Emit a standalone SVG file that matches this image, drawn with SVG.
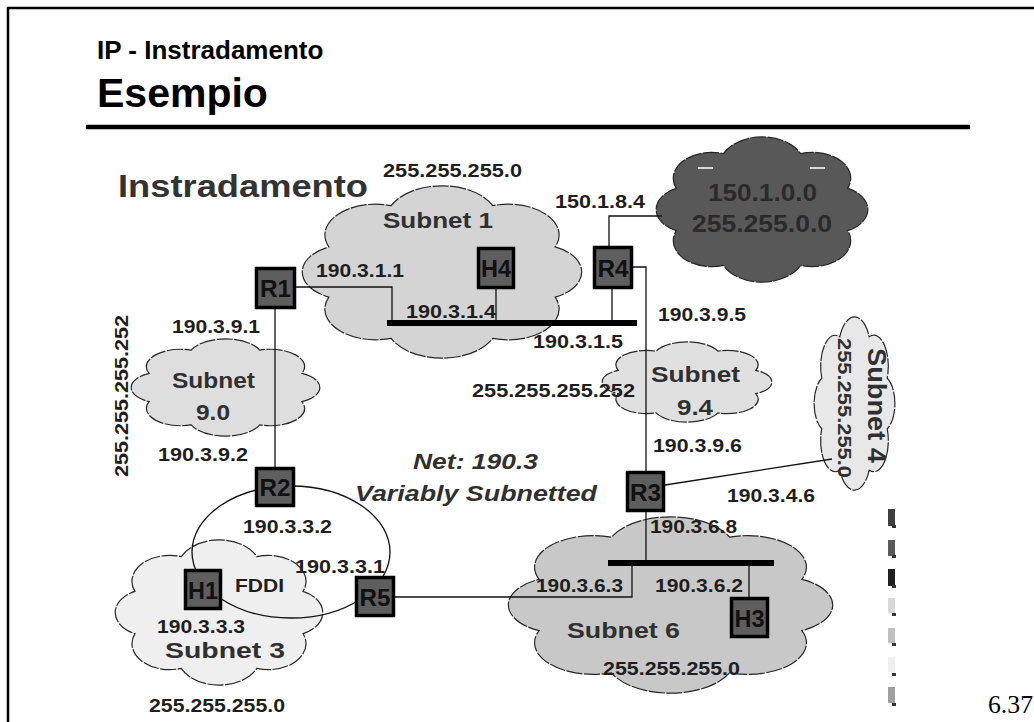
<svg xmlns="http://www.w3.org/2000/svg" xmlns:xlink="http://www.w3.org/1999/xlink" width="1034" height="722" viewBox="0 0 1034 722">
<style>
text{font-family:"Liberation Sans",Arial,sans-serif;font-weight:bold;fill:#1e1e1e}
.lbl{font-size:19px}
.big{font-size:22px;fill:#303030}
.ital{font-style:italic}
.cl{stroke:#262626;stroke-width:1.2;stroke-dasharray:16 1.5;vector-effect:non-scaling-stroke}
.ln{fill:none;stroke:#111;stroke-width:1.3}
.bus{fill:none;stroke:#000;stroke-width:6}
.box{fill:#5e5e5e;stroke:#000;stroke-width:3.5}
.bt{font-size:23px;fill:#111;text-anchor:middle}
.frame{stroke:#000;stroke-width:2.5;fill:none}
</style>
<defs>
<path id="cloud" class="cl" d="M-75.2,-27.4 A33.7,33.7 0 0 1 -33.8,-72.5 A37.2,37.2 0 0 1 33.8,-72.5 A33.7,33.7 0 0 1 75.2,-27.4 A30.1,30.1 0 0 1 75.2,27.4 A33.7,33.7 0 0 1 33.8,72.5 A37.2,37.2 0 0 1 -33.8,72.5 A33.7,33.7 0 0 1 -75.2,27.4 A30.1,30.1 0 0 1 -75.2,-27.4 Z"/>
</defs>
<rect width="1034" height="722" fill="#fff"/>
<path class="frame" d="M8,722 V8 H1034"/>
<text x="97" y="59" style="font-size:26px;fill:#000">IP - Instradamento</text>
<text x="97" y="107" style="font-size:41px;fill:#000">Esempio</text>
<line x1="86" y1="127" x2="970" y2="127" stroke="#000" stroke-width="4.5"/>
<text x="118" y="197" style="font-size:32px;fill:#333" textLength="250" lengthAdjust="spacingAndGlyphs">Instradamento</text>

<g id="net150">
<use xlink:href="#cloud" href="#cloud" fill="#585858" transform="translate(762,209.5) scale(1.14,0.771)"/>
<line x1="698" y1="168" x2="713" y2="168" stroke="#fff" stroke-width="1.5"/>
<line x1="810" y1="168" x2="825" y2="168" stroke="#fff" stroke-width="1.5"/>
<text x="708" y="201" style="font-size:23px;fill:#2a2a2a" textLength="109" lengthAdjust="spacingAndGlyphs">150.1.0.0</text>
<text x="692" y="232" style="font-size:23px;fill:#2a2a2a" textLength="140" lengthAdjust="spacingAndGlyphs">255.255.0.0</text>
</g>
<g id="subnet1">
<use xlink:href="#cloud" href="#cloud" fill="#d4d4d4" transform="translate(442,272) scale(1.505,0.915)"/>
<text class="big" x="383" y="228" textLength="110" lengthAdjust="spacingAndGlyphs">Subnet 1</text>
<text class="lbl" x="383" y="177" textLength="139" lengthAdjust="spacingAndGlyphs">255.255.255.0</text>
</g>
<g id="subnet90">
<use xlink:href="#cloud" href="#cloud" fill="#dedede" transform="translate(225.5,387.5) scale(1.016,0.516)"/>
<text class="big" x="172" y="388" textLength="83" lengthAdjust="spacingAndGlyphs">Subnet</text>
<text class="big" x="196" y="420" textLength="34" lengthAdjust="spacingAndGlyphs">9.0</text>
<text class="lbl" transform="translate(128,477) rotate(-90)" style="font-size:19px" textLength="162" lengthAdjust="spacingAndGlyphs">255.255.255.252</text>
</g>
<g id="subnet94">
<use xlink:href="#cloud" href="#cloud" fill="#e0e0e0" transform="translate(687,382) scale(0.914,0.426)"/>
<text class="big" x="651" y="382" textLength="89" lengthAdjust="spacingAndGlyphs">Subnet</text>
<text class="big" x="677" y="415" textLength="36" lengthAdjust="spacingAndGlyphs">9.4</text>
<text class="lbl" x="472" y="397" textLength="163" lengthAdjust="spacingAndGlyphs">255.255.255.252</text>
</g>
<g id="subnet4">
<use xlink:href="#cloud" href="#cloud" fill="#e8e8e8" transform="translate(854.5,403.5) scale(0.435,0.92)"/>
<text class="lbl" transform="translate(838,338) rotate(90)" style="font-size:19px;fill:#303030" textLength="140" lengthAdjust="spacingAndGlyphs">255.255.255.0</text>
<text class="big" transform="translate(868,348) rotate(90)" style="font-size:25px" textLength="115" lengthAdjust="spacingAndGlyphs">Subnet 4</text>
</g>
<g id="subnet3">
<use xlink:href="#cloud" href="#cloud" fill="#efefef" transform="translate(219,612.5) scale(1.118,0.771)"/>
<text class="big" x="165" y="658" textLength="120" lengthAdjust="spacingAndGlyphs">Subnet 3</text>
<text class="lbl" x="149" y="712" textLength="136" lengthAdjust="spacingAndGlyphs">255.255.255.0</text>
</g>
<g id="subnet6">
<use xlink:href="#cloud" href="#cloud" fill="#c8c8c8" transform="translate(670.5,605) scale(1.747,0.936)"/>
<text class="big" x="567" y="638" textLength="113" lengthAdjust="spacingAndGlyphs">Subnet 6</text>
<text class="lbl" x="603" y="675" textLength="137" lengthAdjust="spacingAndGlyphs">255.255.255.0</text>
</g>

<g id="connectors">
<path class="ln" d="M296,287 H392 V323"/>
<path class="ln" d="M496,289 V323"/>
<path class="ln" d="M612,289 V323"/>
<path class="bus" d="M387,323 H637"/>
<path class="ln" d="M609,246 V216 H662"/>
<path class="ln" d="M633,267 H646 V471"/>
<path class="ln" d="M275,309 V467"/>
<path class="ln" d="M665,485 L832,459"/>
<path class="ln" d="M646,512 V563"/>
<path class="bus" d="M608,563 H774"/>
<path class="ln" d="M632,563 V597 H395"/>
<path class="ln" d="M749,563 V597"/>
<ellipse id="fddi" class="ln" cx="291" cy="552" rx="99" ry="66"/>
</g>

<g id="R1"><rect class="box" x="256.5" y="268.5" width="38" height="39"/><text class="bt" x="275.5" y="297" textLength="31" lengthAdjust="spacingAndGlyphs">R1</text></g>
<g id="H4"><rect class="box" x="478.5" y="248.5" width="35" height="39"/><text class="bt" x="496" y="277" textLength="30" lengthAdjust="spacingAndGlyphs">H4</text></g>
<g id="R4"><rect class="box" x="594.5" y="247.5" width="37" height="40"/><text class="bt" x="613" y="277" textLength="31" lengthAdjust="spacingAndGlyphs">R4</text></g>
<g id="R2"><rect class="box" x="256.5" y="468.5" width="37" height="37"/><text class="bt" x="275" y="496" textLength="31" lengthAdjust="spacingAndGlyphs">R2</text></g>
<g id="H1"><rect class="box" x="185.5" y="570.5" width="35" height="38"/><text class="bt" x="203" y="599" textLength="30" lengthAdjust="spacingAndGlyphs">H1</text></g>
<g id="R5"><rect class="box" x="356.5" y="577.5" width="37" height="38"/><text class="bt" x="375" y="606" textLength="31" lengthAdjust="spacingAndGlyphs">R5</text></g>
<g id="R3"><rect class="box" x="627.5" y="472.5" width="36" height="38"/><text class="bt" x="645.5" y="501" textLength="31" lengthAdjust="spacingAndGlyphs">R3</text></g>
<g id="H3"><rect class="box" x="731.5" y="598.5" width="36" height="38"/><text class="bt" x="749.5" y="627" textLength="30" lengthAdjust="spacingAndGlyphs">H3</text></g>

<g id="labels">
<text class="lbl" x="316" y="277" textLength="88" lengthAdjust="spacingAndGlyphs">190.3.1.1</text>
<text class="lbl" x="406" y="318" textLength="90" lengthAdjust="spacingAndGlyphs">190.3.1.4</text>
<text class="lbl" x="172" y="333" textLength="88" lengthAdjust="spacingAndGlyphs">190.3.9.1</text>
<text class="lbl" x="555" y="208" textLength="90" lengthAdjust="spacingAndGlyphs">150.1.8.4</text>
<text class="lbl" x="658" y="321" textLength="88" lengthAdjust="spacingAndGlyphs">190.3.9.5</text>
<text class="lbl" x="533" y="348" textLength="90" lengthAdjust="spacingAndGlyphs">190.3.1.5</text>
<text class="lbl" x="653" y="452" textLength="89" lengthAdjust="spacingAndGlyphs">190.3.9.6</text>
<text class="lbl" x="158" y="461" textLength="90" lengthAdjust="spacingAndGlyphs">190.3.9.2</text>
<text class="big ital" x="413" y="469" textLength="125" lengthAdjust="spacingAndGlyphs">Net: 190.3</text>
<text class="big ital" x="355" y="501" textLength="242" lengthAdjust="spacingAndGlyphs">Variably Subnetted</text>
<text class="lbl" x="727" y="502" textLength="88" lengthAdjust="spacingAndGlyphs">190.3.4.6</text>
<text class="lbl" x="243" y="533" textLength="89" lengthAdjust="spacingAndGlyphs">190.3.3.2</text>
<text class="lbl" x="295" y="573" textLength="90" lengthAdjust="spacingAndGlyphs">190.3.3.1</text>
<text class="lbl" x="235" y="592" textLength="49" lengthAdjust="spacingAndGlyphs">FDDI</text>
<text class="lbl" x="157" y="633" textLength="88" lengthAdjust="spacingAndGlyphs">190.3.3.3</text>
<text class="lbl" x="650" y="533" textLength="87" lengthAdjust="spacingAndGlyphs">190.3.6.8</text>
<text class="lbl" x="536" y="592" textLength="87" lengthAdjust="spacingAndGlyphs">190.3.6.3</text>
<text class="lbl" x="655" y="592" textLength="88" lengthAdjust="spacingAndGlyphs">190.3.6.2</text>
</g>

<g id="legend">
<rect x="888" y="509" width="7" height="17" fill="#3f3f3f"/><rect x="892" y="525" width="4" height="3" fill="#333"/>
<rect x="888" y="540" width="7" height="16" fill="#5a5a5a"/><rect x="892" y="555" width="4" height="3" fill="#333"/>
<rect x="888" y="569" width="7" height="17" fill="#202020"/><rect x="892" y="585" width="4" height="3" fill="#333"/>
<rect x="888" y="598" width="7" height="15" fill="#d8d8d8"/><rect x="892" y="613" width="4" height="3" fill="#333"/>
<rect x="888" y="628" width="7" height="15" fill="#c0c0c0"/><rect x="892" y="643" width="4" height="3" fill="#333"/>
<rect x="888" y="657" width="7" height="15" fill="#f0f0f0"/><rect x="892" y="673" width="4" height="3" fill="#333"/>
<rect x="888" y="687" width="7" height="16" fill="#a0a0a0"/><rect x="892" y="703" width="4" height="3" fill="#333"/>
</g>
<text x="988" y="713" style="font-family:'Liberation Serif','Times New Roman',serif;font-weight:normal;font-size:26px;fill:#000" textLength="45" lengthAdjust="spacingAndGlyphs">6.37</text>
</svg>
